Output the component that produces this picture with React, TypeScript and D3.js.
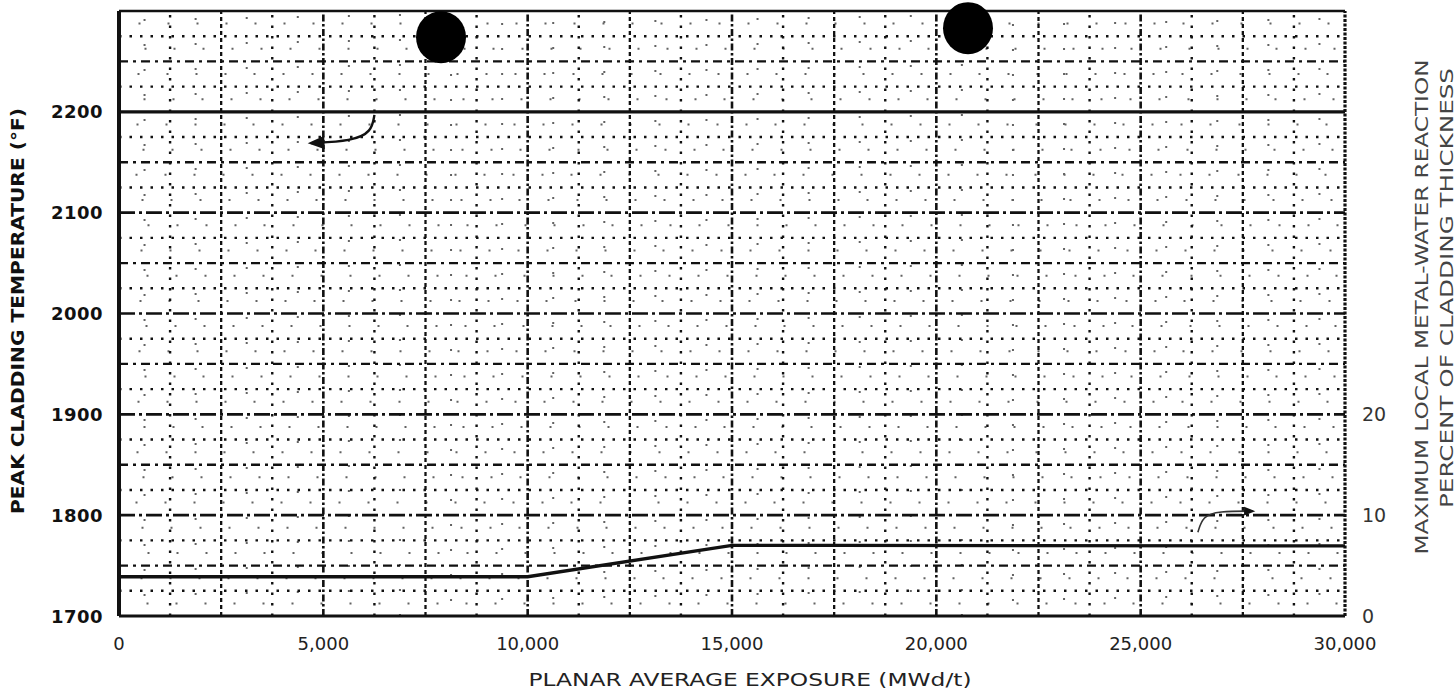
import React from "react";
import * as d3 from "d3";

// values
const exposure = [0, 10000, 15000, 17500, 30000];
const peakCladTemp = [2200, 2200, 2200, 2200, 2200]; // deg F, left axis
const metalWater = [3.9, 3.9, 7.0, 7.0, 6.95]; // % of cladding thickness, right axis

const xTicks = [0, 5000, 10000, 15000, 20000, 25000, 30000];
const yTicks = [1700, 1800, 1900, 2000, 2100, 2200];
const yRightTicks = [0, 10, 20];

// leader arrows (exposure, value) and the two punched holes of the scan
const pctArrow: [number, number][] = [[6250, 2197], [6180, 2180], [5700, 2171], [4700, 2169]];
const mwrArrow: [number, number][] = [[26400, 8.3], [26520, 9.9], [26900, 10.4], [27750, 10.4]];
const punchHoles: [number, number][] = [[7880, 2274], [20775, 2283]];

const W = 1456;
const H = 696;

const App = () => {
  const x = d3.scaleLinear().domain([0, 30000]).range([119, 1345]);
  const y = d3.scaleLinear().domain([1700, 2300]).range([616, 11]);
  const yR = d3.scaleLinear().domain([0, 60]).range([616, 11]);

  const hLines = d3.range(1725, 2300, 25).filter((v) => v !== 2200);
  const vLines = d3.range(1250, 30000, 1250);
  // faint half-printed finer rulings of the graph paper
  const hFine = d3.range(1712.5, 2300, 25);
  const vFine = d3.range(625, 30000, 1250);

  const hStyle = (v: number) =>
    v % 100 === 0
      ? { w: 2.6, dash: "16 4 3 4" }
      : v % 50 === 0
      ? { w: 2.3, dash: "9 5 3 5" }
      : { w: 2.4, dash: "2.5 8" };
  const vStyle = (v: number) =>
    v % 5000 === 0
      ? { w: 2.6, dash: "7 2.5 2.5 2.5" }
      : v % 2500 === 0
      ? { w: 2.3, dash: "4 3" }
      : { w: 2.4, dash: "2.5 8" };

  const line = d3
    .line<number>()
    .x((_, i) => x(exposure[i]))
    .y((d) => y(d));
  const lineR = d3
    .line<number>()
    .x((_, i) => x(exposure[i]))
    .y((d) => yR(d));

  const arrowL = d3
    .line<[number, number]>()
    .x((d) => x(d[0]))
    .y((d) => y(d[1]))
    .curve(d3.curveBasis);
  const arrowR = d3
    .line<[number, number]>()
    .x((d) => x(d[0]))
    .y((d) => yR(d[1]))
    .curve(d3.curveBasis);

  const fmt = (v: number) => (v === 0 ? "0" : d3.format(",")(v));
  const font = "'DejaVu Sans', sans-serif";

  return (
    <svg
      width={W}
      height={H}
      style={{ position: "absolute", left: 0, top: 0, background: "#fff" }}
    >
      <defs>
        <marker id="head" viewBox="0 0 10 10" refX="8" refY="5" markerWidth="9" markerHeight="7" orient="auto">
          <path d="M0,1 L10,5 L0,9 Z" fill="#111" />
        </marker>
      </defs>

      {/* graph paper grid */}
      <g stroke="#222" fill="none" opacity={0.7}>
        {hFine.map((v) => (
          <line key={"hf" + v} x1={x(0)} x2={x(30000)} y1={y(v)} y2={y(v)} strokeWidth={2} strokeDasharray="2 27" strokeDashoffset={(v * 7) % 13} />
        ))}
        {vFine.map((v) => (
          <line key={"vf" + v} x1={x(v)} x2={x(v)} y1={y(1700)} y2={y(2300)} strokeWidth={2} strokeDasharray="2 23" strokeDashoffset={(v / 125) % 11} />
        ))}
      </g>
      <g stroke="#111" fill="none">
        {hLines.map((v) => (
          <line
            key={"h" + v}
            x1={x(0)}
            x2={x(30000)}
            y1={y(v)}
            y2={y(v)}
            strokeWidth={hStyle(v).w}
            strokeDasharray={hStyle(v).dash}
          />
        ))}
        {vLines.map((v) => (
          <line
            key={"v" + v}
            x1={x(v)}
            x2={x(v)}
            y1={y(1700)}
            y2={y(2300)}
            strokeWidth={vStyle(v).w}
            strokeDasharray={vStyle(v).dash}
          />
        ))}
      </g>

      {/* frame */}
      <g stroke="#111" fill="none">
        <line x1={x(0)} x2={x(30000)} y1={y(2300)} y2={y(2300)} strokeWidth={2.6} />
        <line x1={x(0)} x2={x(30000)} y1={y(1700)} y2={y(1700)} strokeWidth={3} />
        <line x1={x(0)} x2={x(0)} y1={y(1700)} y2={y(2300)} strokeWidth={4} />
        <line x1={x(30000)} x2={x(30000)} y1={y(1700)} y2={y(2300)} strokeWidth={3.2} strokeDasharray="3 1.5" />
      </g>

      {/* curves */}
      <path d={line(peakCladTemp) || ""} fill="none" stroke="#111" strokeWidth={3.2} />
      <path d={lineR(metalWater) || ""} fill="none" stroke="#111" strokeWidth={3.4} />

      {/* leader arrows */}
      <path d={arrowL(pctArrow) || ""} fill="none" stroke="#111" strokeWidth={2.4} markerEnd="url(#head)" />
      <path d={arrowR(mwrArrow) || ""} fill="none" stroke="#333" strokeWidth={1.6} markerEnd="url(#head)" />

      {/* punched holes */}
      {punchHoles.map((p, i) => (
        <ellipse key={i} cx={x(p[0])} cy={y(p[1])} rx={25} ry={26} fill="#000" />
      ))}

      {/* tick labels */}
      <g fontFamily={font} fill="#111">
        {yTicks.map((v) => (
          <text key={v} x={x(0) - 16} y={y(v)} textAnchor="end" dominantBaseline="central" fontSize={18} fontWeight="bold" letterSpacing={0.5}>
            {v}
          </text>
        ))}
        {xTicks.map((v) => (
          <text key={v} x={x(v)} y={643} textAnchor="middle" dominantBaseline="central" fontSize={18} fill="#222">
            {fmt(v)}
          </text>
        ))}
        {yRightTicks.map((v) => (
          <text key={v} x={x(30000) + 17} y={yR(v)} textAnchor="start" dominantBaseline="central" fontSize={19} fill="#333">
            {v}
          </text>
        ))}
      </g>

      {/* axis titles */}
      <g fontFamily={font}>
        <text
          transform="translate(17,311) rotate(-90)"
          textAnchor="middle"
          dominantBaseline="central"
          fontSize={18}
          fontWeight="bold"
          fill="#111"
          textLength={406}
          lengthAdjust="spacingAndGlyphs"
        >
          PEAK CLADDING TEMPERATURE (°F)
        </text>
        <text
          x={750}
          y={679}
          textAnchor="middle"
          dominantBaseline="central"
          fontSize={18}
          fill="#222"
          textLength={443}
          lengthAdjust="spacingAndGlyphs"
        >
          PLANAR AVERAGE EXPOSURE (MWd/t)
        </text>
        <text
          transform="translate(1422,307) rotate(-90)"
          textAnchor="middle"
          dominantBaseline="central"
          fontSize={17}
          fill="#444"
          textLength={495}
          lengthAdjust="spacingAndGlyphs"
        >
          MAXIMUM LOCAL METAL-WATER REACTION
        </text>
        <text
          transform="translate(1447,288) rotate(-90)"
          textAnchor="middle"
          dominantBaseline="central"
          fontSize={17}
          fill="#444"
          textLength={440}
          lengthAdjust="spacingAndGlyphs"
        >
          PERCENT OF CLADDING THICKNESS
        </text>
      </g>
    </svg>
  );
};

export default App;
